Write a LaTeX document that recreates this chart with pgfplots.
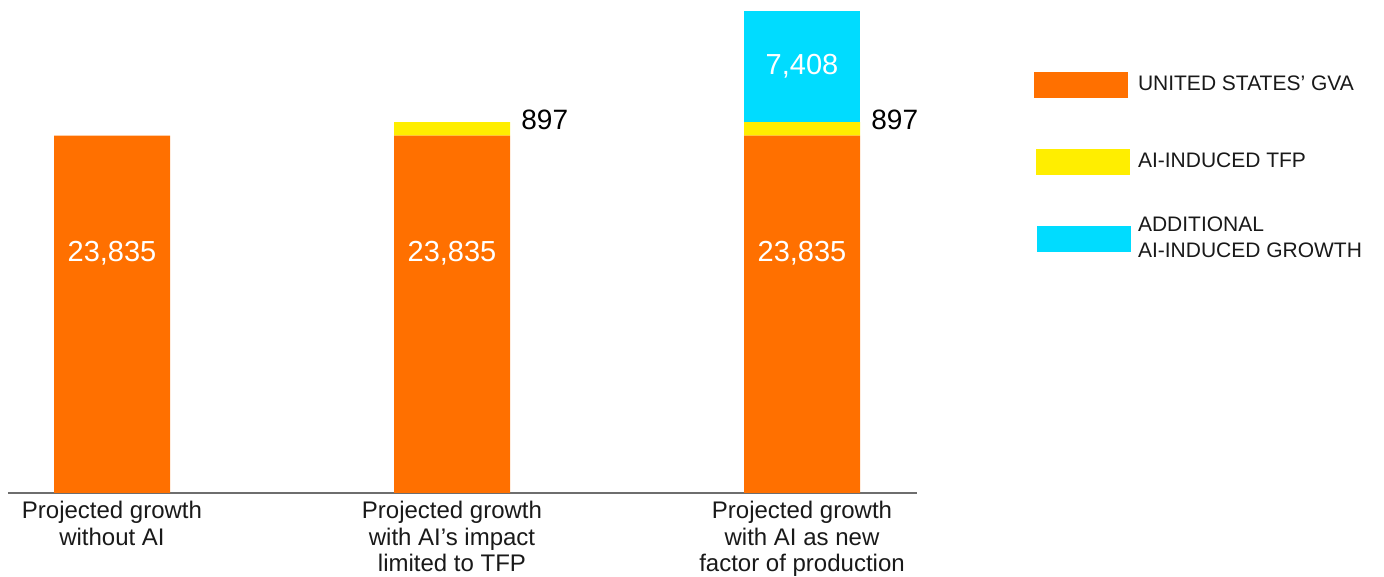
\documentclass[border=0pt]{standalone}
\usepackage{fontspec}
\setmainfont{Liberation Sans}
\usepackage{pgfplots}
\pgfplotsset{compat=1.18}
\definecolor{gvaorange}{RGB}{255,112,0}
\definecolor{tfpyellow}{RGB}{255,238,0}
\definecolor{addcyan}{RGB}{0,220,255}
\definecolor{axisgray}{RGB}{110,110,110}
\definecolor{txt}{RGB}{25,25,25}
\begin{document}
\begin{tikzpicture}
\useasboundingbox (0,0) rectangle (692pt,288.5pt);
\begin{axis}[
  at={(4pt,42pt)}, anchor=south west,
  scale only axis, width=454.5pt, height=246.5pt,
  xmin=8, xmax=917, ymin=0, ymax=32873.5,
  ybar stacked, bar width=58pt,
  axis x line=bottom, axis y line=none,
  axis line style={-, draw=axisgray, line width=0.75pt},
  xtick={112,452,802},
  xticklabels={{Projected growth\\without AI},{Projected growth\\with AI’s impact\\limited to TFP},{Projected growth\\with AI as new\\factor of production}},
  xticklabel style={align=center, font=\fontsize{12}{13.25}\selectfont, inner sep=0pt, yshift=-4pt, text=txt},
  major tick length=0pt,
  ytick=\empty,
  clip=false,
  legend style={at={(1.1287,0.8884)}, anchor=north west, draw=none, inner sep=0pt, outer sep=0pt,
    row sep=8.5pt, column sep=3.5pt, font=\fontsize{10.5}{13}\selectfont, text=txt,
    nodes={align=left, minimum height=30pt, inner sep=0pt}},
  legend cell align=left,
]
\addplot[fill=gvaorange, draw=none, legend image code/.code={\fill[gvaorange] (0pt,-6.5pt) rectangle (47pt,6.5pt);}]
  coordinates {(112,23835) (452,23835) (802,23835)};
\addlegendentry{UNITED STATES’ GVA}
\addplot[fill=tfpyellow, draw=none, legend image code/.code={\fill[tfpyellow] (1pt,-6.5pt) rectangle (48pt,6.5pt);}]
  coordinates {(112,0) (452,897) (802,897)};
\addlegendentry{AI-INDUCED TFP}
\addplot[fill=addcyan, draw=none, legend image code/.code={\fill[addcyan] (1.5pt,-6.5pt) rectangle (48.5pt,6.5pt);}]
  coordinates {(112,0) (452,0) (802,7408)};
\addlegendentry{ADDITIONAL\\AI-INDUCED GROWTH}

\coordinate (g1) at (axis cs:112,16000);
\coordinate (g2) at (axis cs:452,16000);
\coordinate (g3) at (axis cs:802,16000);
\coordinate (c3) at (axis cs:802,28436);
\coordinate (t2) at (axis cs:521,24870);
\coordinate (t3) at (axis cs:871,24870);
\end{axis}
\node[text=white, font=\fontsize{14.5}{16}\selectfont] at (g1) {23,835};
\node[text=white, font=\fontsize{14.5}{16}\selectfont] at (g2) {23,835};
\node[text=white, font=\fontsize{14.5}{16}\selectfont] at (g3) {23,835};
\node[text=white, font=\fontsize{14.5}{16}\selectfont] at (c3) {7,408};
\node[anchor=west, inner sep=0pt, text=black, font=\fontsize{14}{16}\selectfont] at (t2) {897};
\node[anchor=west, inner sep=0pt, text=black, font=\fontsize{14}{16}\selectfont] at (t3) {897};
\end{tikzpicture}
\end{document}
